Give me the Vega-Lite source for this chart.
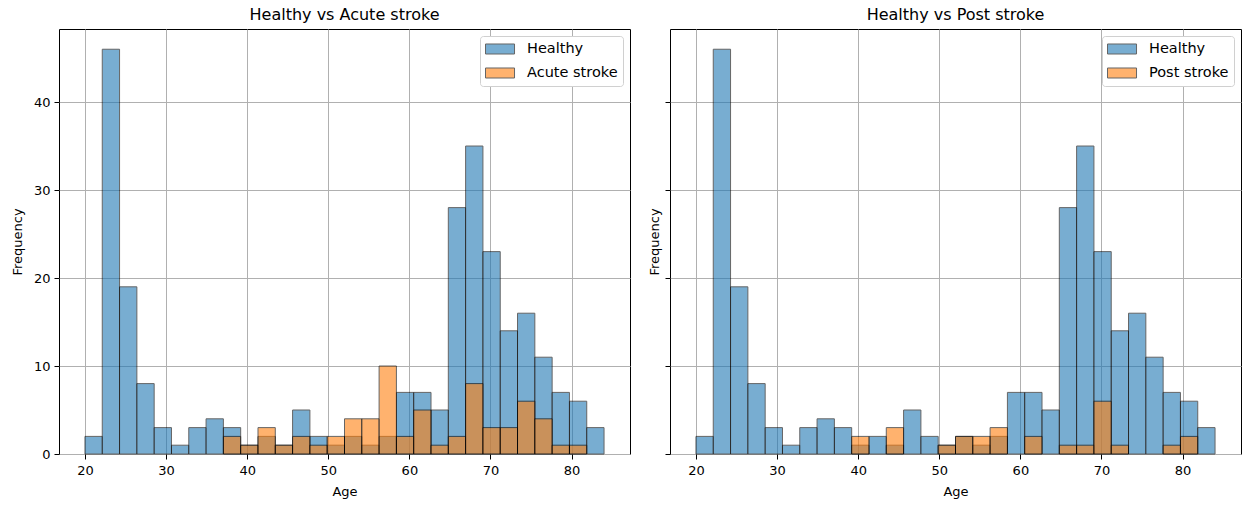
{
  "$schema": "https://vega.github.io/schema/vega-lite/v6.json",
  "background": "white",
  "padding": {"left": 10, "top": 6, "right": 5, "bottom": 5},
  "spacing": 17,
  "config": {
    "font": "DejaVu Sans",
    "view": {"stroke": "black", "strokeWidth": 1},
    "axis": {"domain": false, "grid": true, "gridColor": "#b0b0b0", "gridWidth": 1, "tickColor": "black", "tickSize": 5, "labelFontSize": 13, "titleFontSize": 13, "labelColor": "black", "titleColor": "black", "titleFontWeight": "normal", "labelPadding": 4, "titlePadding": 6},
    "axisX": {"titlePadding": 8, "labelPadding": 5},
    "title": {"fontSize": 16, "fontWeight": "normal", "offset": 6, "frame": "group", "anchor": "middle", "color": "black"},
    "legend": {"orient": "top-right", "offset": 7, "fillColor": "white", "strokeColor": "#d0d0d0", "cornerRadius": 3, "padding": 5, "labelFontSize": 14.5, "labelColor": "black", "symbolType": "M-1,-0.667H2.87V0.667H-1Z", "symbolSize": 225, "symbolOpacity": 0.6, "symbolStrokeColor": "black", "symbolStrokeWidth": 1, "rowPadding": 8, "labelOffset": 26}
  },
  "datasets": {
    "h": [
      {"g": "Healthy", "a": 20, "b": 22.1333, "n": 2},
      {"g": "Healthy", "a": 22.1333, "b": 24.2667, "n": 46},
      {"g": "Healthy", "a": 24.2667, "b": 26.4, "n": 19},
      {"g": "Healthy", "a": 26.4, "b": 28.5333, "n": 8},
      {"g": "Healthy", "a": 28.5333, "b": 30.6667, "n": 3},
      {"g": "Healthy", "a": 30.6667, "b": 32.8, "n": 1},
      {"g": "Healthy", "a": 32.8, "b": 34.9333, "n": 3},
      {"g": "Healthy", "a": 34.9333, "b": 37.0667, "n": 4},
      {"g": "Healthy", "a": 37.0667, "b": 39.2, "n": 3},
      {"g": "Healthy", "a": 39.2, "b": 41.3333, "n": 1},
      {"g": "Healthy", "a": 41.3333, "b": 43.4667, "n": 2},
      {"g": "Healthy", "a": 43.4667, "b": 45.6, "n": 1},
      {"g": "Healthy", "a": 45.6, "b": 47.7333, "n": 5},
      {"g": "Healthy", "a": 47.7333, "b": 49.8667, "n": 2},
      {"g": "Healthy", "a": 49.8667, "b": 52, "n": 1},
      {"g": "Healthy", "a": 52, "b": 54.1333, "n": 2},
      {"g": "Healthy", "a": 54.1333, "b": 56.2667, "n": 1},
      {"g": "Healthy", "a": 56.2667, "b": 58.4, "n": 2},
      {"g": "Healthy", "a": 58.4, "b": 60.5333, "n": 7},
      {"g": "Healthy", "a": 60.5333, "b": 62.6667, "n": 7},
      {"g": "Healthy", "a": 62.6667, "b": 64.8, "n": 5},
      {"g": "Healthy", "a": 64.8, "b": 66.9333, "n": 28},
      {"g": "Healthy", "a": 66.9333, "b": 69.0667, "n": 35},
      {"g": "Healthy", "a": 69.0667, "b": 71.2, "n": 23},
      {"g": "Healthy", "a": 71.2, "b": 73.3333, "n": 14},
      {"g": "Healthy", "a": 73.3333, "b": 75.4667, "n": 16},
      {"g": "Healthy", "a": 75.4667, "b": 77.6, "n": 11},
      {"g": "Healthy", "a": 77.6, "b": 79.7333, "n": 7},
      {"g": "Healthy", "a": 79.7333, "b": 81.8667, "n": 6},
      {"g": "Healthy", "a": 81.8667, "b": 84, "n": 3},
      {"g": "Acute stroke", "a": 37.0667, "b": 39.2, "n": 2},
      {"g": "Acute stroke", "a": 39.2, "b": 41.3333, "n": 1},
      {"g": "Acute stroke", "a": 41.3333, "b": 43.4667, "n": 3},
      {"g": "Acute stroke", "a": 43.4667, "b": 45.6, "n": 1},
      {"g": "Acute stroke", "a": 45.6, "b": 47.7333, "n": 2},
      {"g": "Acute stroke", "a": 47.7333, "b": 49.8667, "n": 1},
      {"g": "Acute stroke", "a": 49.8667, "b": 52, "n": 2},
      {"g": "Acute stroke", "a": 52, "b": 54.1333, "n": 4},
      {"g": "Acute stroke", "a": 54.1333, "b": 56.2667, "n": 4},
      {"g": "Acute stroke", "a": 56.2667, "b": 58.4, "n": 10},
      {"g": "Acute stroke", "a": 58.4, "b": 60.5333, "n": 2},
      {"g": "Acute stroke", "a": 60.5333, "b": 62.6667, "n": 5},
      {"g": "Acute stroke", "a": 62.6667, "b": 64.8, "n": 1},
      {"g": "Acute stroke", "a": 64.8, "b": 66.9333, "n": 2},
      {"g": "Acute stroke", "a": 66.9333, "b": 69.0667, "n": 8},
      {"g": "Acute stroke", "a": 69.0667, "b": 71.2, "n": 3},
      {"g": "Acute stroke", "a": 71.2, "b": 73.3333, "n": 3},
      {"g": "Acute stroke", "a": 73.3333, "b": 75.4667, "n": 6},
      {"g": "Acute stroke", "a": 75.4667, "b": 77.6, "n": 4},
      {"g": "Acute stroke", "a": 77.6, "b": 79.7333, "n": 1},
      {"g": "Acute stroke", "a": 79.7333, "b": 81.8667, "n": 1},
      {"g": "Post stroke", "a": 39.2, "b": 41.3333, "n": 2},
      {"g": "Post stroke", "a": 43.4667, "b": 45.6, "n": 3},
      {"g": "Post stroke", "a": 49.8667, "b": 52, "n": 1},
      {"g": "Post stroke", "a": 52, "b": 54.1333, "n": 2},
      {"g": "Post stroke", "a": 54.1333, "b": 56.2667, "n": 2},
      {"g": "Post stroke", "a": 56.2667, "b": 58.4, "n": 3},
      {"g": "Post stroke", "a": 60.5333, "b": 62.6667, "n": 2},
      {"g": "Post stroke", "a": 64.8, "b": 66.9333, "n": 1},
      {"g": "Post stroke", "a": 66.9333, "b": 69.0667, "n": 1},
      {"g": "Post stroke", "a": 69.0667, "b": 71.2, "n": 6},
      {"g": "Post stroke", "a": 71.2, "b": 73.3333, "n": 1},
      {"g": "Post stroke", "a": 77.6, "b": 79.7333, "n": 1},
      {"g": "Post stroke", "a": 79.7333, "b": 81.8667, "n": 2}
    ]
  },
  "resolve": {"scale": {"color": "independent"}, "legend": {"color": "independent"}},
  "hconcat": [
    {
      "width": 571,
      "height": 425,
      "title": "Healthy vs Acute stroke",
      "data": {"name": "h"},
      "transform": [{"filter": {"field": "g", "oneOf": ["Healthy", "Acute stroke"]}}],
      "mark": {"type": "bar", "opacity": 0.6, "stroke": "black", "strokeWidth": 1},
      "encoding": {
        "x": {"field": "a", "type": "quantitative", "scale": {"domain": [16.8, 87.2], "nice": false, "zero": false}, "axis": {"values": [20, 30, 40, 50, 60, 70, 80], "title": "Age"}},
        "x2": {"field": "b"},
        "y": {"field": "n", "type": "quantitative", "stack": null, "scale": {"domain": [0, 48.3], "nice": false}, "axis": {"values": [0, 10, 20, 30, 40], "title": "Frequency", "titlePadding": 9}},
        "y2": {"datum": 0},
        "color": {"field": "g", "type": "nominal", "scale": {"domain": ["Healthy", "Acute stroke"], "range": ["#1f77b4", "#ff7f0e"]}, "legend": {"title": null}}
      }
    },
    {
      "width": 571,
      "height": 425,
      "title": "Healthy vs Post stroke",
      "data": {"name": "h"},
      "transform": [{"filter": {"field": "g", "oneOf": ["Healthy", "Post stroke"]}}],
      "mark": {"type": "bar", "opacity": 0.6, "stroke": "black", "strokeWidth": 1},
      "encoding": {
        "x": {"field": "a", "type": "quantitative", "scale": {"domain": [16.8, 87.2], "nice": false, "zero": false}, "axis": {"values": [20, 30, 40, 50, 60, 70, 80], "title": "Age"}},
        "x2": {"field": "b"},
        "y": {"field": "n", "type": "quantitative", "stack": null, "scale": {"domain": [0, 48.3], "nice": false}, "axis": {"values": [0, 10, 20, 30, 40], "labels": false, "title": "Frequency", "titlePadding": 3}},
        "y2": {"datum": 0},
        "color": {"field": "g", "type": "nominal", "scale": {"domain": ["Healthy", "Post stroke"], "range": ["#1f77b4", "#ff7f0e"]}, "legend": {"title": null}}
      }
    }
  ]
}
